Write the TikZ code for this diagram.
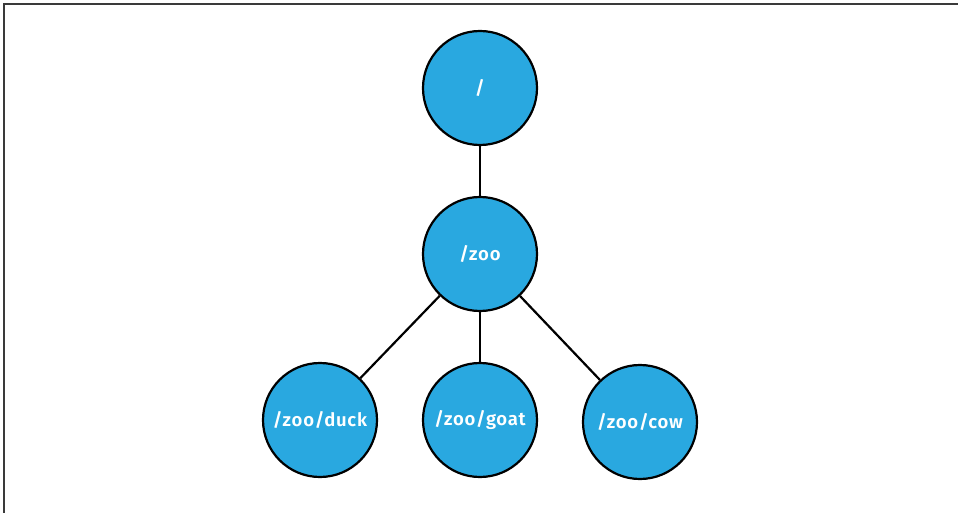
\documentclass[tikz,border=0pt]{standalone}
\usepackage{fontspec}
\setmainfont{Fira Sans}[BoldFont={Fira Sans SemiBold},LetterSpace=4]
\definecolor{nodeblue}{HTML}{29A8E0}
\definecolor{framegray}{HTML}{3A3A3A}
\begin{document}
\begin{tikzpicture}[x=1pt,y=-1pt,
  zk/.style={circle,draw=black,line width=2.2pt,fill=nodeblue,minimum size=114pt,inner sep=0pt,
    text=white,font=\fontsize{18.5}{22}\selectfont\bfseries},
  edge/.style={draw=black,line width=2.2pt}]
\useasboundingbox (0,0) rectangle (958,513);
\draw[framegray,line width=2pt] (3.5,513) -- (3.5,4.5) -- (958,4.5);
\node[zk] (root) at (480,88) {/};
\node[zk] (zoo) at (480,254) {/zoo};
\node[zk] (duck) at (320,420) {/zoo/duck};
\node[zk] (goat) at (480,420) {/zoo/goat};
\node[zk] (cow) at (640,422) {/zoo/cow};
\draw[edge] (root) -- (zoo);
\draw[edge] (zoo) -- (duck);
\draw[edge] (zoo) -- (goat);
\draw[edge] (zoo) -- (cow);
\end{tikzpicture}
\end{document}
